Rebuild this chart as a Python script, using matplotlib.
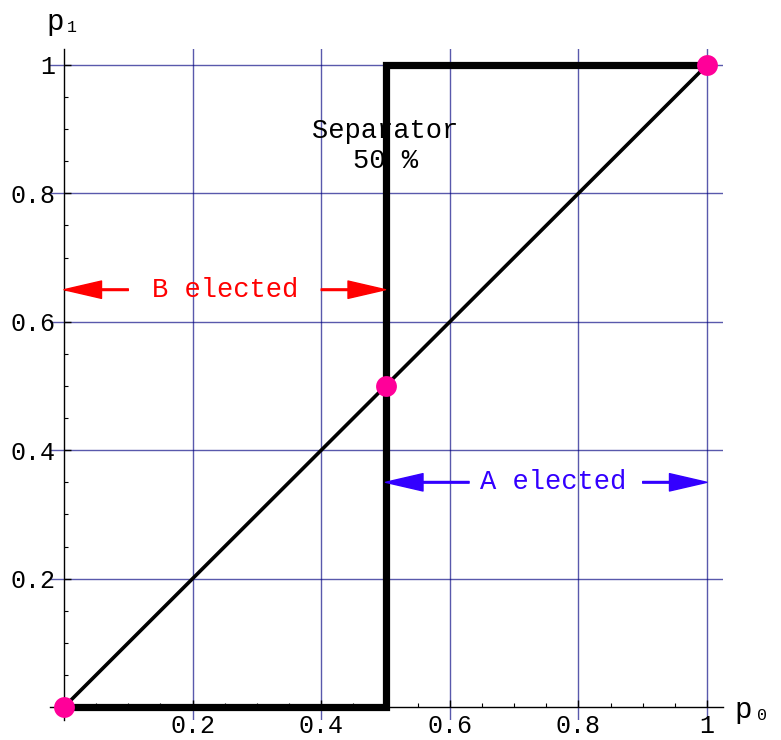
import matplotlib
matplotlib.use('Agg')
import matplotlib.pyplot as plt
from matplotlib.ticker import MultipleLocator

# Separator step (50 % threshold) and diagonal p1 = p0
sep_x = [0, 0.5, 0.5, 1]
sep_y = [0, 0, 1, 1]
diag_x = [0, 1]
diag_y = [0, 1]

# Marked points
pts_x = [0, 0.5, 1]
pts_y = [0, 0.5, 1]

# Ticks
tick_vals = [0.2, 0.4, 0.6, 0.8, 1.0]
tick_labels = ['0.2', '0.4', '0.6', '0.8', '1']

# Region annotations: (label, x_center, y, left_end, left_tail, right_tail, right_end, colour)
regions = [
    ('B elected', 0.25, 0.65, 0.0, 0.10, 0.40, 0.5, '#ff0000'),
    ('A elected', 0.76, 0.35, 0.5, 0.63, 0.90, 1.0, '#3300ff'),
]

mono = 'Liberation Mono'
plt.rcParams['font.family'] = [mono, 'DejaVu Sans']

fig = plt.figure(figsize=(7.81, 7.40), dpi=100)
ax = fig.add_axes([50 / 781, 20 / 740, 673 / 781, 671 / 740])

ax.set_xlim(-0.0218, 1.0249)
ax.set_ylim(-0.0202, 1.0249)

# Axes through the origin
for side in ['top', 'right']:
    ax.spines[side].set_visible(False)
ax.spines['left'].set_position(('data', 0))
ax.spines['bottom'].set_position(('data', 0))
for side in ['left', 'bottom']:
    ax.spines[side].set_linewidth(1.0)
    ax.spines[side].set_zorder(2)

ax.set_xticks(tick_vals)
ax.set_xticklabels(tick_labels)
ax.set_yticks(tick_vals)
ax.set_yticklabels(tick_labels)
ax.xaxis.set_minor_locator(MultipleLocator(0.05))
ax.yaxis.set_minor_locator(MultipleLocator(0.05))
ax.tick_params(which='major', direction='in', length=5, width=1, labelsize=18, pad=5)
ax.tick_params(axis='y', which='major', pad=6)
ax.tick_params(which='minor', direction='in', length=3, width=0.8)

ax.grid(True, which='major', color='#000080', alpha=0.65, linewidth=1.0)
ax.set_axisbelow(True)

# Curves
ax.plot(diag_x, diag_y, color='black', linewidth=2.6, zorder=3, clip_on=False)
ax.plot(sep_x, sep_y, color='black', linewidth=5.2, zorder=4, clip_on=False,
        solid_joinstyle='miter', solid_capstyle='butt')
ax.plot(pts_x, pts_y, 'o', color='#ff0099', markersize=15, markeredgewidth=0,
        zorder=5, clip_on=False)

ax.text(0.5, 0.874, 'Separator\n50 %', ha='center', va='center', fontsize=19.5,
        linespacing=1.2, zorder=6)

# Elected regions with double-ended arrows
arrow_kw = dict(width=1.2, headwidth=12.5, headlength=27, shrink=0)
for label, xc, yy, xl, xlt, xrt, xr, col in regions:
    ax.text(xc, yy, label, ha='center', va='center', fontsize=19.5, color=col, zorder=6)
    ax.annotate('', xy=(xl, yy), xytext=(xlt, yy),
                arrowprops=dict(facecolor=col, edgecolor=col, **arrow_kw), zorder=6)
    ax.annotate('', xy=(xr, yy), xytext=(xrt, yy),
                arrowprops=dict(facecolor=col, edgecolor=col, **arrow_kw), zorder=6)

# Axis labels p1 and p0
ax.text(-0.014, 1.067, 'p', ha='center', va='center', fontsize=21, clip_on=False)
ax.text(0.0115, 1.059, '1', ha='center', va='center', fontsize=12, clip_on=False)
ax.text(1.057, -0.005, 'p', ha='center', va='center', fontsize=21, clip_on=False)
ax.text(1.085, -0.013, '0', ha='center', va='center', fontsize=12, clip_on=False)

fig.savefig('out.png', dpi=100)
